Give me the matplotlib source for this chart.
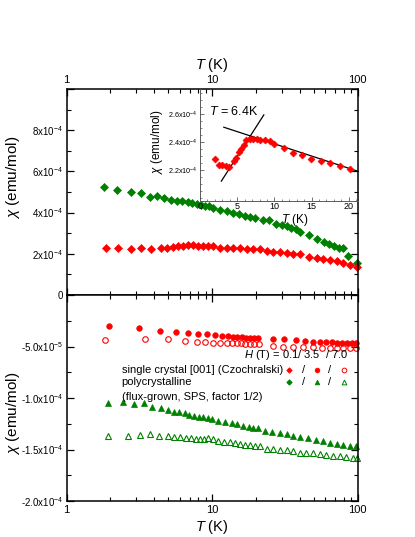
import matplotlib
matplotlib.use("Agg")
import matplotlib.pyplot as plt
from matplotlib.ticker import MultipleLocator, FuncFormatter, LogLocator, NullFormatter
import numpy as np

plt.rcParams['font.family'] = ['Liberation Sans', 'DejaVu Sans']
plt.rcParams['mathtext.fontset'] = 'custom'
plt.rcParams['mathtext.rm'] = 'Liberation Sans'
plt.rcParams['mathtext.it'] = 'Liberation Sans:italic'
plt.rcParams['mathtext.bf'] = 'Liberation Sans:bold'
plt.rcParams['mathtext.sf'] = 'Liberation Sans'

RED = '#ff0000'
GREEN = '#008000'

# ---------------- data: top panel (H = 0.1 T) ----------------
T_sc_01 = [1.86, 2.26, 2.77, 3.24, 3.8, 4.45, 4.87, 5.35, 5.84, 6.33, 6.86, 7.42, 8.03, 8.7, 9.4,
           10.2, 11.3, 12.6, 13.9, 15.5, 17.3, 19.2, 21.3, 23.7, 26.3, 29.2, 32.5, 36, 40, 46.5,
           52.3, 58, 64.4, 71.5, 79.6, 88.4, 98.3]
chi_sc_01 = [2.29, 2.26, 2.21, 2.26, 2.22, 2.26, 2.29, 2.33, 2.37, 2.40, 2.42, 2.42, 2.40, 2.40, 2.40,
             2.37, 2.30, 2.30, 2.27, 2.27, 2.24, 2.22, 2.22, 2.16, 2.08, 2.08, 2.04, 2.01, 1.98, 1.85,
             1.80, 1.74, 1.69, 1.64, 1.53, 1.45, 1.34]  # x1e-4

T_pc_01 = [1.81, 2.23, 2.75, 3.23, 3.72, 4.2, 4.69, 5.24, 5.73, 6.23, 6.79, 7.3, 7.82, 8.37, 8.92,
           9.5, 10.2, 11.3, 12.6, 13.8, 15.2, 16.8, 18.2, 19.7, 22.3, 24.7, 27.4, 30, 32.5, 35,
           37.7, 40.3, 46.5, 52.7, 58.6, 63.8, 69, 74.4, 79.6, 86.2, 98.4]
chi_pc_01 = [5.23, 5.11, 5.02, 4.96, 4.75, 4.80, 4.69, 4.60, 4.56, 4.54, 4.51, 4.46, 4.43, 4.36, 4.33,
             4.30, 4.24, 4.14, 4.07, 3.98, 3.91, 3.85, 3.78, 3.73, 3.66, 3.62, 3.46, 3.38, 3.33, 3.27,
             3.19, 3.06, 2.90, 2.71, 2.58, 2.50, 2.38, 2.30, 2.26, 1.90, 1.56]  # x1e-4

# ---------------- inset data (linear T) ----------------
T_inset = [1.99, 2.53, 2.98, 3.43, 3.87, 4.54, 4.9, 5.2, 5.5, 5.9, 6.25, 6.7, 7.15, 7.6, 8.1,
           8.8, 9.4, 10.0, 11.3, 12.5, 13.7, 14.9, 16.2, 17.5, 18.8, 20.2]
chi_inset = [2.283, 2.24, 2.235, 2.23, 2.223, 2.264, 2.29, 2.33, 2.354, 2.38, 2.418, 2.425, 2.425,
             2.42, 2.418, 2.413, 2.406, 2.385, 2.358, 2.323, 2.306, 2.283, 2.264, 2.248, 2.228, 2.212]  # x1e-4
fit_low_T = [2.87, 8.58]
fit_low_chi = [2.122, 2.595]
fit_high_T = [3.2, 21.2]
fit_high_chi = [2.507, 2.193]

# ---------------- bottom panel ----------------
T_sc_35 = [1.95, 3.15, 4.37, 5.6, 6.85, 8.03, 9.24, 10.5, 11.7, 12.9, 13.9, 14.9, 16, 17.1, 18.2,
           19.4, 20.7, 26, 31, 37.7, 43.3, 49.5, 55, 60.5, 66.3, 71.5, 77.5, 84, 90.7, 97.5]
chi_sc_35 = [-3.01, -3.24, -3.46, -3.59, -3.72, -3.75, -3.82, -3.88, -3.95, -3.98, -4.05, -4.08, -4.11,
             -4.14, -4.14, -4.18, -4.18, -4.24, -4.30, -4.40, -4.47, -4.53, -4.56, -4.59, -4.59, -4.63,
             -4.66, -4.66, -4.66, -4.63]  # x1e-5

T_sc_70 = [1.82, 3.47, 4.94, 6.5, 7.82, 8.92, 10.2, 11.3, 12.6, 13.6, 14.7, 15.7, 16.9, 18.2, 19.5,
           21, 26.3, 30.7, 36, 42.4, 49.5, 56.5, 64.4, 72.3, 79.6, 88.4, 97.5]
chi_sc_70 = [-4.37, -4.27, -4.27, -4.47, -4.56, -4.59, -4.63, -4.63, -4.66, -4.66, -4.69, -4.69, -4.72,
             -4.72, -4.76, -4.76, -4.95, -5.02, -5.05, -5.05, -5.08, -5.11, -5.11, -5.15, -5.18, -5.18,
             -5.18]  # x1e-5

T_pc_35 = [1.91, 2.43, 2.9, 3.4, 3.87, 4.46, 4.99, 5.47, 5.95, 6.5, 6.96, 7.5, 8.08, 8.69, 9.3, 9.96,
           11, 12.2, 13.6, 14.9, 16.3, 17.8, 19.2, 20.7, 23, 25.6, 29.2, 32.5, 36, 40, 45.6, 51.6, 58,
           64.4, 71.5, 79.6, 88.4, 97.5]
chi_pc_35 = [-1.046, -1.036, -1.058, -1.052, -1.090, -1.100, -1.117, -1.133, -1.139, -1.149, -1.165,
             -1.175, -1.181, -1.188, -1.194, -1.200, -1.223, -1.236, -1.246, -1.256, -1.269, -1.278,
             -1.288, -1.294, -1.318, -1.327, -1.343, -1.352, -1.366, -1.376, -1.391, -1.408, -1.420,
             -1.434, -1.447, -1.456, -1.463, -1.466]  # x1e-4

T_pc_70 = [1.91, 2.63, 3.19, 3.74, 4.3, 4.99, 5.47, 6.0, 6.6, 7.16, 7.75, 8.26, 8.8, 9.4, 10.1, 11,
           12.1, 13.3, 14.4, 15.5, 16.8, 18.2, 19.7, 21.3, 23.7, 26.3, 29.2, 32.5, 36, 40, 44.4, 49.5,
           55, 61, 67.6, 75, 83, 92.6, 98.5]
chi_pc_70 = [-1.366, -1.366, -1.356, -1.350, -1.369, -1.366, -1.382, -1.382, -1.391, -1.385, -1.398,
             -1.395, -1.401, -1.391, -1.401, -1.415, -1.424, -1.430, -1.440, -1.447, -1.453, -1.459,
             -1.463, -1.466, -1.495, -1.498, -1.502, -1.505, -1.515, -1.531, -1.537, -1.537, -1.547,
             -1.553, -1.560, -1.563, -1.569, -1.579, -1.585]  # x1e-4

top_yticks = [0, 2e-4, 4e-4, 6e-4, 8e-4]
top_yticklabels = ['0', '2x10$^{-4}$', '4x10$^{-4}$', '6x10$^{-4}$', '8x10$^{-4}$']
bot_yticks = [-5e-5, -1e-4, -1.5e-4, -2e-4]
bot_yticklabels = ['-5.0x10$^{-5}$', '-1.0x10$^{-4}$', '-1.5x10$^{-4}$', '-2.0x10$^{-4}$']
inset_yticks = [2.2e-4, 2.4e-4, 2.6e-4]
inset_yticklabels = ['2.2x10$^{-4}$', '2.4x10$^{-4}$', '2.6x10$^{-4}$']

W, H = 415, 537
fig = plt.figure(figsize=(W / 100, H / 100), dpi=100)

L, R = 66.7, 357.7
def fx(px): return px / W
def fy(py): return 1 - py / H

ax1 = fig.add_axes([fx(L), fy(295), fx(R - L), (295 - 89) / H])
ax2 = fig.add_axes([fx(L), fy(501), fx(R - L), (501 - 295) / H])

tick_kw = dict(direction='in', top=True, right=True, labelsize=7, pad=2.5)
for ax in (ax1, ax2):
    ax.set_xscale('log')
    ax.set_xlim(1, 100)
    for s in ax.spines.values():
        s.set_linewidth(1.1)
    ax.tick_params(which='major', length=5, width=0.9, **tick_kw)
    ax.tick_params(which='minor', length=3, width=0.8, **tick_kw)
    ax.xaxis.set_major_locator(LogLocator(base=10, numticks=5))
    ax.xaxis.set_minor_locator(LogLocator(base=10, subs=np.arange(2, 10), numticks=20))
    ax.xaxis.set_minor_formatter(NullFormatter())
    ax.xaxis.set_major_formatter(FuncFormatter(lambda v, p: f'{v:g}'))

# ----- top panel -----
ax1.set_ylim(0, 1e-3)
ax1.set_yticks(top_yticks + [1e-3])
ax1.set_yticklabels(top_yticklabels + [''])
ax1.yaxis.set_minor_locator(MultipleLocator(1e-4))
ax1.tick_params(axis='x', which='both', labelbottom=False, labeltop=True, labelsize=8, pad=3)
ax1.xaxis.set_label_position('top')
ax1.set_xlabel(r'$\mathit{T}$ (K)', fontsize=10.5, labelpad=4)
ax1.set_ylabel(r'$\mathit{\chi}$ (emu/mol)', fontsize=11)
ax1.yaxis.set_label_coords(-0.155, 0.573)

ax1.plot(T_pc_01, np.array(chi_pc_01) * 1e-4, 'D', color=GREEN, ms=3.7, mew=0.5, ls='none', clip_on=False)
ax1.plot(T_sc_01, np.array(chi_sc_01) * 1e-4, 'D', color=RED, ms=3.7, mew=0.5, ls='none', clip_on=False)

# ----- bottom panel -----
ax2.set_ylim(-2e-4, 0)
ax2.set_yticks([0] + bot_yticks)
ax2.set_yticklabels([''] + bot_yticklabels)
ax2.yaxis.set_minor_locator(MultipleLocator(2.5e-5))
ax2.tick_params(axis='x', which='both', labelsize=8, pad=3)
ax2.set_xlabel(r'$\mathit{T}$ (K)', fontsize=10.5, labelpad=2)
ax2.set_ylabel(r'$\mathit{\chi}$ (emu/mol)', fontsize=11)
ax2.yaxis.set_label_coords(-0.155, 0.427)

ax2.plot(T_sc_35, np.array(chi_sc_35) * 1e-5, 'o', color=RED, ms=4, mew=0.5, ls='none', clip_on=False)
ax2.plot(T_sc_70, np.array(chi_sc_70) * 1e-5, 'o', mfc='none', mec=RED, ms=4, mew=0.8, ls='none', clip_on=False)
ax2.plot(T_pc_35, np.array(chi_pc_35) * 1e-4, '^', color=GREEN, ms=4.3, mew=0.5, ls='none', clip_on=False)
ax2.plot(T_pc_70, np.array(chi_pc_70) * 1e-4, '^', mfc='none', mec=GREEN, ms=4.3, mew=0.8, ls='none', clip_on=False)

# legend block (text + sample markers)
lf = 8.0
ax2.text(0.968, 0.709, r'$\mathit{H}$ (T) = 0.1/ 3.5  / 7.0', transform=ax2.transAxes, ha='right', va='center', fontsize=lf)
ax2.text(0.189, 0.636, 'single crystal [001] (Czochralski)', transform=ax2.transAxes, ha='left', va='center', fontsize=lf)
ax2.text(0.189, 0.579, 'polycrystalline', transform=ax2.transAxes, ha='left', va='center', fontsize=lf)
ax2.text(0.189, 0.506, '(flux-grown, SPS, factor 1/2)', transform=ax2.transAxes, ha='left', va='center', fontsize=lf)
for yy, c, m1, m2 in [(0.636, RED, 'D', 'o'), (0.579, GREEN, 'D', '^')]:
    ax2.plot([0.764], [yy], m1, color=c, ms=2.8, mew=0.5, transform=ax2.transAxes)
    ax2.plot([0.859], [yy], m2, color=c, ms=3.4, mew=0.5, transform=ax2.transAxes)
    ax2.plot([0.953], [yy], m2, mfc='none', mec=c, ms=3.4, mew=0.7, transform=ax2.transAxes)
    ax2.text(0.813, yy, '/', transform=ax2.transAxes, ha='center', va='center', fontsize=lf)
    ax2.text(0.905, yy, '/', transform=ax2.transAxes, ha='center', va='center', fontsize=lf)

# ----- inset -----
IL, IB, IT = 200.0, 201.0, 89.0
axi = fig.add_axes([fx(IL), fy(IB), fx(R - IL), (IB - IT) / H])
axi.set_facecolor('none')
axi.set_xlim(0, 21.2)
axi.set_ylim(1.98e-4, 2.78e-4)
for s in axi.spines.values():
    s.set_linewidth(0.7)
    s.set_color('0.35')
axi.spines['top'].set_visible(False)
axi.spines['right'].set_visible(False)
axi.set_xticks([0, 5, 10, 15, 20])
axi.xaxis.set_minor_locator(MultipleLocator(1))
axi.set_yticks(inset_yticks)
axi.set_yticklabels(inset_yticklabels)
axi.yaxis.set_minor_locator(MultipleLocator(0.05e-4))
axi.tick_params(which='major', direction='in', length=3, width=0.6, color='0.35', pad=1.5)
axi.tick_params(which='minor', direction='in', length=1.5, width=0.5, color='0.35')
axi.tick_params(axis='y', labelsize=5.2)
axi.tick_params(axis='x', labelsize=6.5, pad=1)
axi.set_xlabel(r'$\mathit{T}$ (K)', fontsize=8.5)
axi.xaxis.set_label_coords(0.603, -0.095)
axi.set_ylabel(r'$\mathit{\chi}$ (emu/mol)', fontsize=8.5)
axi.yaxis.set_label_coords(-0.225, 0.53)

axi.plot(fit_low_T, np.array(fit_low_chi) * 1e-4, '-', color='black', lw=0.9, clip_on=False)
axi.plot(fit_high_T, np.array(fit_high_chi) * 1e-4, '-', color='black', lw=0.9, clip_on=False)
axi.plot(T_inset, np.array(chi_inset) * 1e-4, 'D', color=RED, ms=3.5, mew=0.5, ls='none')
axi.text(0.06, 0.8, r'$\mathit{T}$ = 6.4K', transform=axi.transAxes, ha='left', va='center', fontsize=9)

fig.savefig('out.png', dpi=100)
